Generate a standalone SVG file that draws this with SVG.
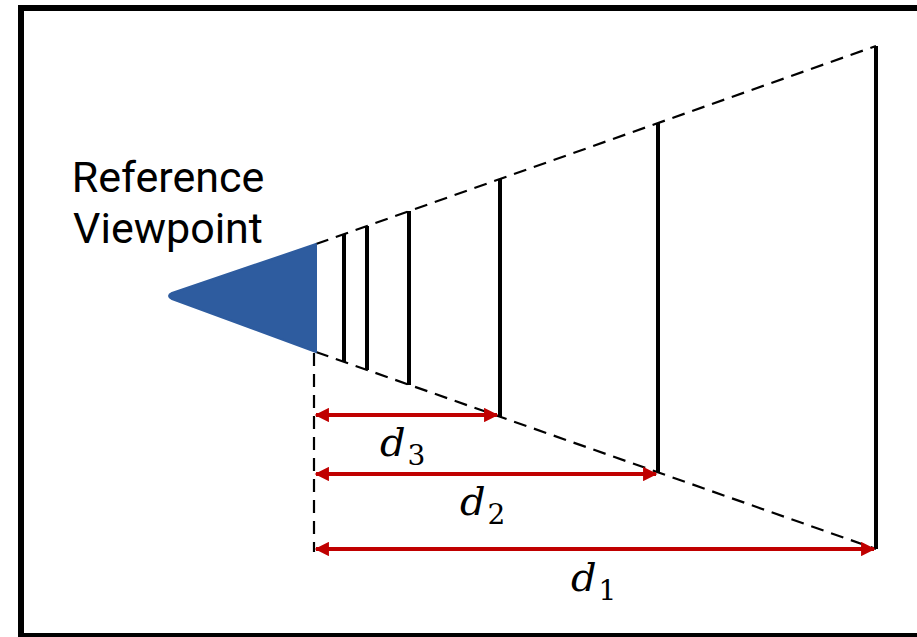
<svg xmlns="http://www.w3.org/2000/svg" width="917" height="637" viewBox="0 0 917 637">
<style>
.frame{fill:#fff;stroke:#000;stroke-width:6}
.dash{stroke:#000;stroke-width:2.2;stroke-dasharray:13,8;fill:none}
.bar{stroke:#000;stroke-width:4;fill:none}
.arr{stroke:#C00000;stroke-width:4;fill:none;marker-start:url(#ah);marker-end:url(#ah)}
.lbl{font-family:'Roboto','Liberation Sans',sans-serif;font-size:43px;fill:#000}
.math{font-family:'DejaVu Serif','Liberation Serif',serif;font-style:italic;font-size:40px;fill:#000}
.sub{font-family:'DejaVu Serif','Liberation Serif',serif;font-size:28px;fill:#000}
</style>
<defs>
<marker id="ah" viewBox="0 0 10 10" refX="9" refY="5" markerWidth="4.5" markerHeight="3.6" orient="auto-start-reverse" markerUnits="strokeWidth">
<path d="M0,0 L10,5 L0,10 z" fill="#C00000"/>
</marker>
</defs>
<rect class="frame" x="21" y="8" width="902" height="628"/>
<g id="connectors">
<line class="dash" x1="316" y1="244" x2="876" y2="46"/>
<line class="dash" x1="316" y1="352" x2="876" y2="549"/>
<line class="dash" x1="314" y1="353" x2="314" y2="552"/>
<line class="bar" x1="344" y1="234" x2="344" y2="362"/>
<line class="bar" x1="367" y1="226" x2="367" y2="370"/>
<line class="bar" x1="409" y1="211" x2="409" y2="385"/>
<line class="bar" x1="500" y1="179" x2="500" y2="417"/>
<line class="bar" x1="658" y1="123" x2="658" y2="472"/>
<line class="bar" x1="876" y1="46" x2="876" y2="549"/>
<line class="arr" x1="316" y1="415" x2="497" y2="415"/>
<line class="arr" x1="316" y1="474" x2="656" y2="474"/>
<line class="arr" x1="316" y1="549" x2="874" y2="549"/>
</g>
<g id="viewpoint">
<path d="M316,244 L316,352 L172,299 Q166,296 172,293 Z" fill="#2E5C9F" stroke="#2E5C9F" stroke-width="2" stroke-linejoin="round"/>
<text class="lbl" x="168" y="192" text-anchor="middle">Reference</text>
<text class="lbl" x="168" y="243" text-anchor="middle">Viewpoint</text>
</g>
<g id="label-d3"><text x="380" y="456"><tspan class="math">d</tspan><tspan class="sub" dx="2" dy="9">3</tspan></text></g>
<g id="label-d2"><text x="460" y="515"><tspan class="math">d</tspan><tspan class="sub" dx="2" dy="9">2</tspan></text></g>
<g id="label-d1"><text x="571" y="591"><tspan class="math">d</tspan><tspan class="sub" dx="2" dy="9">1</tspan></text></g>
</svg>
